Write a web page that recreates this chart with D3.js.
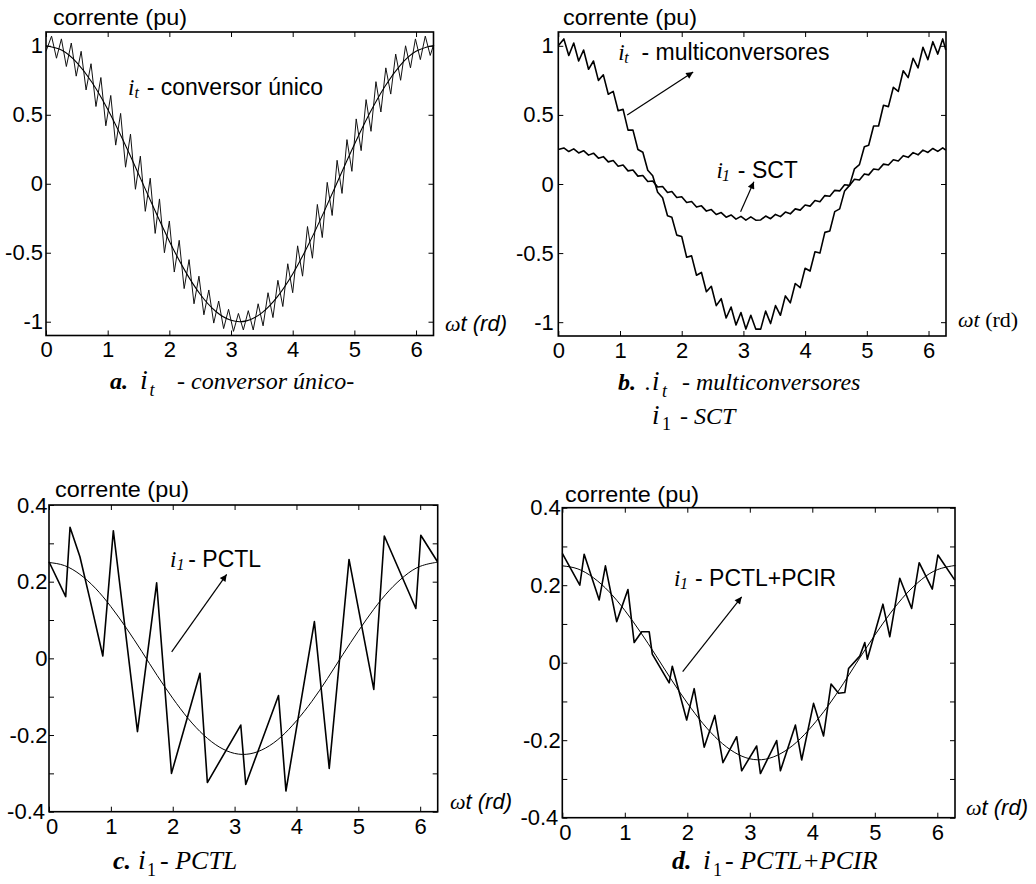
<!DOCTYPE html>
<html>
<head>
<meta charset="utf-8">
<script src="https://cdn.jsdelivr.net/npm/d3@7"></script>
<style>
  body { margin: 0; background: #fff; }
</style>
</head>
<body>
<svg id="fig" width="1036" height="884"></svg>
<script>
const SANS = '"Liberation Sans", Arial, sans-serif';
const SERIF = '"Liberation Serif", "Times New Roman", serif';

// axis limits and ticks
const xMax = 6.2832;
const xTicks = [0, 1, 2, 3, 4, 5, 6];
const yTicksAB = [-1, -0.5, 0, 0.5, 1];
const yTicksCD = [-0.4, -0.3, -0.2, -0.1, 0, 0.1, 0.2, 0.3, 0.4];
const yLabelsCD = [-0.4, -0.2, 0, 0.2, 0.4];

// zigzag vertices of panels a and b (wt in rad)
const xRipple = [0, 0.09, 0.17, 0.25, 0.33, 0.41, 0.49, 0.57, 0.65, 0.73, 0.81, 0.89, 0.97, 1.05, 1.13, 1.21, 1.29, 1.37, 1.45, 1.53,
    1.61, 1.69, 1.77, 1.84, 1.92, 2.00, 2.08, 2.16, 2.24, 2.32, 2.40, 2.48, 2.56, 2.64, 2.72, 2.80, 2.88, 2.96, 3.04, 3.12,
    3.20, 3.28, 3.36, 3.44, 3.52, 3.60, 3.68, 3.76, 3.84, 3.92, 4.00, 4.08, 4.16, 4.24, 4.32, 4.40, 4.48, 4.56, 4.64, 4.72,
    4.80, 4.88, 4.96, 5.03, 5.11, 5.19, 5.27, 5.35, 5.43, 5.51, 5.59, 5.67, 5.75, 5.83, 5.91, 5.99, 6.07, 6.15, 6.23, 6.28];

// a. it - conversor unico (pu)
const iUnico = [0.96, 1.07, 0.91, 1.05, 0.85, 1.02, 0.78, 0.96, 0.68, 0.87, 0.56, 0.77, 0.42, 0.64, 0.28, 0.51, 0.12, 0.36, -0.04, 0.20,
    -0.20, 0.04, -0.36, -0.11, -0.50, -0.27, -0.64, -0.41, -0.76, -0.55, -0.87, -0.67, -0.95, -0.77, -1.01, -0.85, -1.05, -0.91, -1.07, -0.94,
    -1.06, -0.92, -1.06, -0.87, -1.03, -0.79, -0.97, -0.70, -0.89, -0.58, -0.79, -0.45, -0.67, -0.31, -0.54, -0.15, -0.39, 0.01, -0.23, 0.17,
    -0.07, 0.32, 0.09, 0.47, 0.24, 0.61, 0.38, 0.74, 0.52, 0.84, 0.65, 0.94, 0.75, 1.00, 0.84, 1.05, 0.90, 1.07, 0.93, 1.00];

// b. it - multiconversores (pu)
const iMulti = [1.00, 1.05, 0.93, 1.02, 0.89, 0.97, 0.83, 0.89, 0.75, 0.79, 0.65, 0.67, 0.53, 0.54, 0.39, 0.39, 0.25, 0.23, 0.10, 0.06,
    -0.06, -0.10, -0.23, -0.24, -0.37, -0.38, -0.53, -0.52, -0.66, -0.64, -0.78, -0.74, -0.88, -0.83, -0.97, -0.89, -1.02, -0.93, -1.05, -0.95,
    -1.05, -1.05, -0.92, -1.01, -0.88, -0.95, -0.81, -0.86, -0.72, -0.75, -0.61, -0.63, -0.49, -0.50, -0.35, -0.34, -0.20, -0.18, -0.05, -0.01,
    0.11, 0.14, 0.27, 0.28, 0.42, 0.42, 0.57, 0.56, 0.70, 0.67, 0.82, 0.77, 0.91, 0.84, 0.99, 0.90, 1.03, 0.94, 1.05, 0.97];

// b. i1 - SCT (pu)
const iSCT = [0.250, 0.261, 0.235, 0.254, 0.225, 0.241, 0.209, 0.223, 0.187, 0.198, 0.160, 0.170, 0.129, 0.137, 0.095, 0.101, 0.057, 0.062, 0.018, 0.022,
    -0.022, -0.018, -0.062, -0.054, -0.098, -0.092, -0.134, -0.127, -0.167, -0.158, -0.196, -0.185, -0.221, -0.207, -0.240, -0.224, -0.254, -0.234, -0.261, -0.238,
    -0.262, -0.260, -0.232, -0.251, -0.220, -0.236, -0.203, -0.216, -0.180, -0.189, -0.152, -0.160, -0.120, -0.128, -0.084, -0.089, -0.046, -0.050, -0.006, -0.010,
    0.034, 0.029, 0.073, 0.066, 0.109, 0.103, 0.144, 0.138, 0.176, 0.167, 0.205, 0.193, 0.227, 0.211, 0.245, 0.228, 0.257, 0.236, 0.262, 0.245];

// smooth fundamentals
const xSmooth = [0, 0.25, 0.5, 0.75, 1, 1.25, 1.5, 1.75, 2, 2.25, 2.5, 2.75, 3, 3.25, 3.5, 3.75, 4, 4.25, 4.5, 4.75, 5, 5.25, 5.5, 5.75, 6, 6.25, 6.28];
const fundA = [1.000, 0.969, 0.878, 0.732, 0.540, 0.315, 0.071, -0.178, -0.416, -0.628, -0.801, -0.924, -0.990, -0.994,
    -0.936, -0.820, -0.654, -0.446, -0.211, 0.038, 0.284, 0.512, 0.709, 0.861, 0.960, 0.999, 1.000];
const fundCD = [0.250, 0.242, 0.219, 0.183, 0.135, 0.079, 0.018, -0.045, -0.104, -0.157, -0.200, -0.231, -0.248, -0.249,
    -0.234, -0.205, -0.163, -0.112, -0.053, 0.010, 0.071, 0.128, 0.177, 0.215, 0.240, 0.250, 0.250];

// c. i1 - PCTL
const xPCTL = [0, 0.27, 0.34, 0.50, 0.66, 0.87, 1.04, 1.43, 1.74, 1.98, 2.44, 2.56, 3.10, 3.18, 3.71, 3.83, 4.29, 4.53, 4.85, 5.25, 5.42, 5.93, 6.01, 6.28];
const iPCTL = [0.252, 0.161, 0.342, 0.265, 0.155, 0.006, 0.333, -0.191, 0.197, -0.300, -0.039, -0.324, -0.174, -0.329, -0.097, -0.346, 0.096, -0.287, 0.258, -0.081, 0.319, 0.130, 0.321, 0.252];

// d. i1 - PCTL+PCIR
const xPCIR = [0, 0.28, 0.35, 0.59, 0.69, 0.87, 1.05, 1.15, 1.27, 1.39, 1.44, 1.71, 1.76, 1.99, 2.11, 2.27, 2.44, 2.57, 2.79, 2.87, 3.11,
    3.17, 3.43, 3.49, 3.73, 3.83, 4.02, 4.18, 4.30, 4.42, 4.52, 4.58, 4.76, 4.84, 4.88, 5.13, 5.24, 5.40, 5.59, 5.71, 5.92, 6.01, 6.28];
const iPCIR = [0.282, 0.200, 0.280, 0.162, 0.250, 0.106, 0.189, 0.052, 0.080, 0.080, 0.022, -0.052, -0.009, -0.148, -0.067, -0.218, -0.136, -0.258, -0.191, -0.279, -0.215,
    -0.286, -0.201, -0.279, -0.161, -0.251, -0.105, -0.189, -0.055, -0.079, -0.077, -0.015, 0.017, 0.052, 0.009, 0.151, 0.067, 0.218, 0.140, 0.258, 0.190, 0.278, 0.213];


let svg = d3.select('#fig');

let defs = svg.append('defs');
defs.append('marker')
    .attr('id', 'ah')
    .attr('viewBox', '0 0 10 10')
    .attr('refX', 10).attr('refY', 5)
    .attr('markerWidth', 9).attr('markerHeight', 7)
    .attr('markerUnits', 'userSpaceOnUse')
    .attr('orient', 'auto')
    .append('path').attr('d', 'M0,0L10,5L0,10z').attr('fill', '#000');


let panels = [
    {id: 'a', left: 46, top: 32, w: 387.5, h: 303.5, yDomain: [-1.1, 1.1], yTicks: yTicksAB, yLabels: yTicksAB, pad: 3, xPad: 6, tight: false,
     title: [53, 25], wt: [445, 331], wtSerif: false,
     series: [
        {x: xRipple, y: iUnico, width: 1, color: '#111', curve: d3.curveLinear},
        {x: xSmooth, y: fundA, width: 1.1, color: '#000', curve: d3.curveNatural}
     ],
     notes: [{at: [1.33, 0.643], sub: 't', subDx: 6.5, text: '- conversor único', textDx: 18.7}],
     arrows: []},
    {id: 'b', left: 558.3, top: 32, w: 387.7, h: 304, yDomain: [-1.1, 1.1], yTicks: yTicksAB, yLabels: yTicksAB, pad: 4.5, xPad: 6, tight: false,
     title: [563, 25], wt: [958, 327], wtSerif: true,
     series: [
        {x: xRipple, y: iMulti, width: 1.6, color: '#000', curve: d3.curveLinear},
        {x: xRipple, y: iSCT, width: 1.6, color: '#000', curve: d3.curveLinear}
     ],
     notes: [
        {at: [0.97, 0.90], sub: 't', subDx: 6, text: '- multiconversores', textDx: 23.4},
        {at: [2.565, 0.043], sub: '1', subDx: 5.5, text: '- SCT', textDx: 21.3}
     ],
     arrows: [[1.117, 0.50, 2.186, 0.81], [2.954, -0.20, 3.17, 0.017]]},
    {id: 'c', left: 49, top: 505, w: 388.7, h: 306.7, yDomain: [-0.4, 0.4], yTicks: yTicksCD, yLabels: yLabelsCD, pad: 1.5, xPad: 7, tight: true,
     title: [55, 497], wt: [450, 809], wtSerif: false,
     series: [
        {x: xPCTL, y: iPCTL, width: 1.6, color: '#000', curve: d3.curveLinear},
        {x: xSmooth, y: fundCD, width: 1, color: '#000', curve: d3.curveNatural}
     ],
     notes: [{at: [1.956, 0.239], sub: '1', subDx: 6.5, text: '- PCTL', textDx: 18.3}],
     arrows: [[1.983, 0.017, 2.872, 0.219]]},
    {id: 'd', left: 562.3, top: 507.7, w: 392.7, h: 310, yDomain: [-0.4, 0.4], yTicks: yTicksCD, yLabels: yLabelsCD, pad: 1.5, xPad: 7, tight: true,
     title: [565, 502], wt: [966, 815], wtSerif: false,
     series: [
        {x: xPCIR, y: iPCIR, width: 1.6, color: '#000', curve: d3.curveLinear},
        {x: xSmooth, y: fundCD, width: 1, color: '#000', curve: d3.curveNatural}
     ],
     notes: [{at: [1.787, 0.199], sub: '1', subDx: 6, text: '- PCTL+PCIR', textDx: 21}],
     arrows: [[1.926, -0.023, 2.870, 0.170]]}
];


function txt(parent, x, y, str, size, family, style, weight)
{
    return parent.append('text')
        .attr('x', x).attr('y', y)
        .attr('font-family', family)
        .attr('font-size', size)
        .attr('font-style', style || 'normal')
        .attr('font-weight', weight || 'normal')
        .attr('fill', '#000')
        .text(str);
}


function drawPanel(p)
{
    let g = svg.append('g').attr('transform', 'translate(' + p.left + ',' + p.top + ')');
    let x = d3.scaleLinear().domain([0, xMax]).range([0, p.w]);
    let y = d3.scaleLinear().domain(p.yDomain).range([p.h, 0]);

    g.append('clipPath').attr('id', 'clip-' + p.id)
        .append('rect').attr('x', -1).attr('y', -1).attr('width', p.w + 2).attr('height', p.h + 2);

    let fmt = d => p.yLabels.includes(d) ? String(d) : '';
    let left = g.append('g').call(d3.axisLeft(y).tickValues(p.yTicks).tickSize(-5).tickPadding(p.pad).tickFormat(fmt));
    let bottom = g.append('g').attr('transform', 'translate(0,' + p.h + ')')
        .call(d3.axisBottom(x).tickValues(xTicks).tickSize(-5).tickPadding(p.xPad).tickFormat(d => String(d)));
    let axes = [
        left, bottom,
        g.append('g').call(d3.axisTop(x).tickValues(xTicks).tickSize(-5).tickFormat(() => '')),
        g.append('g').attr('transform', 'translate(' + p.w + ',0)')
            .call(d3.axisRight(y).tickValues(p.yTicks).tickSize(-5).tickFormat(() => ''))
    ];
    axes.forEach(a => {
        a.select('.domain').remove();
        a.attr('font-family', SANS).attr('font-size', 22);
        a.selectAll('.tick line').attr('stroke', '#000').attr('stroke-width', 1);
        a.selectAll('.tick text').attr('fill', '#000');
    });

    // the lowest y label and the first x label sit in the same corner
    if (p.tight)
    {
        left.selectAll('.tick text').filter(d => d == p.yDomain[0]).attr('dx', -2.5);
        bottom.selectAll('.tick text').filter(d => d == 0).attr('dx', 2.5);
    }

    let plot = g.append('g').attr('clip-path', 'url(#clip-' + p.id + ')');
    p.series.forEach(s => {
        let line = d3.line().x(d => x(d[0])).y(d => y(d[1])).curve(s.curve);
        plot.append('path')
            .datum(d3.zip(s.x, s.y))
            .attr('d', line)
            .attr('fill', 'none')
            .attr('stroke', s.color)
            .attr('stroke-width', s.width)
            .attr('stroke-linejoin', 'round');
    });

    g.append('rect')
        .attr('width', p.w).attr('height', p.h)
        .attr('fill', 'none').attr('stroke', '#000').attr('stroke-width', 1.6);

    p.arrows.forEach(a => {
        g.append('line')
            .attr('x1', x(a[0])).attr('y1', y(a[1]))
            .attr('x2', x(a[2])).attr('y2', y(a[3]))
            .attr('stroke', '#000').attr('stroke-width', 1.2)
            .attr('marker-end', 'url(#ah)');
    });

    p.notes.forEach(n => {
        let nx = x(n.at[0]), ny = y(n.at[1]);
        txt(g, nx, ny, 'i', 23, SERIF, 'italic');
        txt(g, nx + n.subDx, ny + 3, n.sub, 16, SERIF, 'italic');
        txt(g, nx + n.textDx, ny, n.text, 23, SANS);
    });

    // y label and x label, placed in page coordinates
    txt(svg, p.title[0], p.title[1], 'corrente (pu)', 22, SANS)
        .attr('textLength', 134).attr('lengthAdjust', 'spacingAndGlyphs');

    let wt = txt(svg, p.wt[0], p.wt[1], '', 22, SERIF, 'italic');
    wt.append('tspan').text('ω');
    if (p.wtSerif)
    {
        wt.append('tspan').text('t');
        wt.append('tspan').attr('font-style', 'normal').text(' (rd)');
    }
    else
        wt.append('tspan').attr('font-family', SANS).text('t (rd)');
}

panels.forEach(drawPanel);


// captions under the panels
txt(svg, 110, 389, 'a.', 24, SERIF, 'italic', 'bold');
txt(svg, 140, 389, 'i', 28, SERIF, 'italic');
txt(svg, 149.5, 396, 't', 18, SERIF, 'italic');
txt(svg, 177, 389, '- conversor único-', 24, SERIF, 'italic');

txt(svg, 618, 390, 'b.', 24, SERIF, 'italic', 'bold');
txt(svg, 645, 390, '.', 24, SERIF, 'italic');
txt(svg, 652, 390, 'i', 27, SERIF, 'italic');
txt(svg, 662, 397, 't', 18, SERIF, 'italic');
txt(svg, 682, 390, '- multiconversores', 24, SERIF, 'italic');
txt(svg, 652, 424, 'i', 27, SERIF, 'italic');
txt(svg, 662, 430, '1', 18, SERIF);
txt(svg, 680, 424, '- SCT', 24, SERIF, 'italic');

txt(svg, 113, 869, 'c.', 26, SERIF, 'italic', 'bold');
txt(svg, 138, 869, 'i', 28, SERIF, 'italic');
txt(svg, 147, 876, '1', 18, SERIF);
txt(svg, 160, 869, '- PCTL', 26, SERIF, 'italic');

txt(svg, 672, 869, 'd.', 26, SERIF, 'italic', 'bold');
txt(svg, 703, 869, 'i', 28, SERIF, 'italic');
txt(svg, 713, 876, '1', 18, SERIF);
txt(svg, 725, 869, '- PCTL+PCIR', 26, SERIF, 'italic');
</script>
</body>
</html>
